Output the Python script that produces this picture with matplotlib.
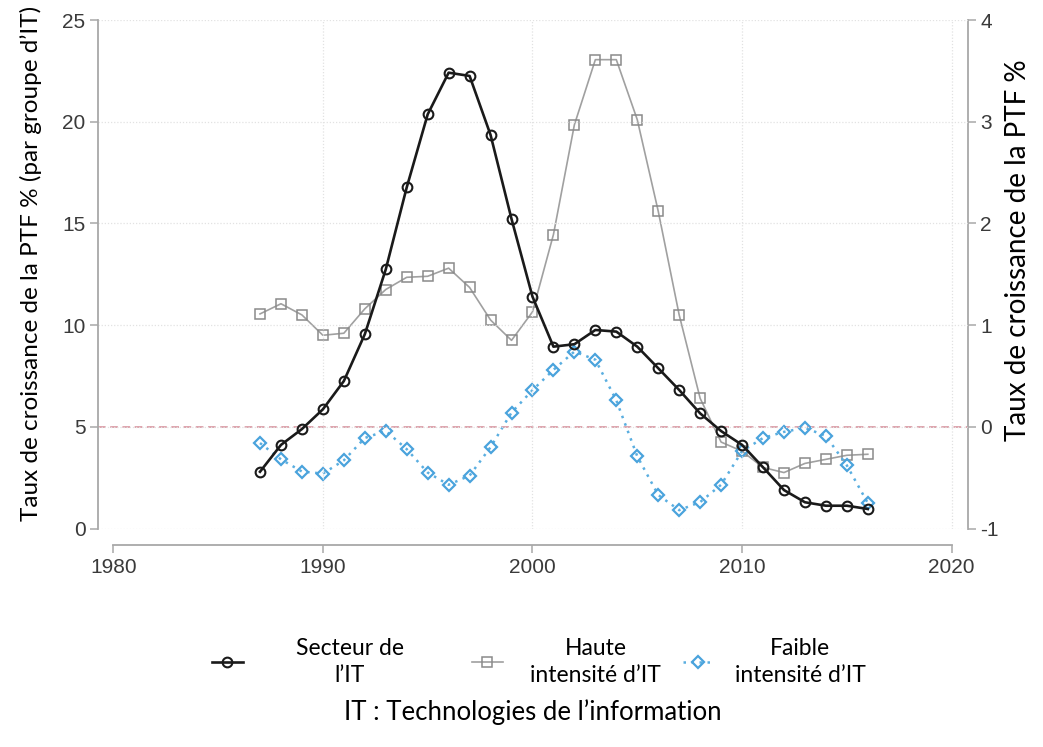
import matplotlib
matplotlib.use('Agg')
import matplotlib.pyplot as plt

# ---- data ----
years = list(range(1987, 2017))
secteur_it = [2.79, 4.11, 4.89, 5.86, 7.25, 9.55, 12.74, 16.77, 20.36, 22.41,
              22.25, 19.35, 15.22, 11.40, 8.94, 9.06, 9.76, 9.68, 8.94, 7.88,
              6.81, 5.66, 4.79, 4.11, 3.01, 1.89, 1.29, 1.12, 1.12, 0.96]
# right axis values (%)
haute_intensite = [1.11, 1.21, 1.10, 0.90, 0.92, 1.16, 1.35, 1.47, 1.48, 1.56,
                   1.37, 1.05, 0.85, 1.13, 1.89, 2.97, 3.61, 3.61, 3.02, 2.12,
                   1.10, 0.28, -0.15, -0.24, -0.40, -0.45, -0.36, -0.32, -0.28, -0.27]
faible_intensite = [-0.16, -0.32, -0.44, -0.46, -0.33, -0.11, -0.04, -0.22, -0.45, -0.57,
                    -0.48, -0.20, 0.14, 0.36, 0.56, 0.74, 0.66, 0.26, -0.29, -0.67,
                    -0.82, -0.74, -0.57, -0.24, -0.11, -0.05, -0.01, -0.09, -0.38, -0.75]
x_ticks = [1980, 1990, 2000, 2010, 2020]
left_ticks = [0, 5, 10, 15, 20, 25]
right_ticks = [-1, 0, 1, 2, 3, 4]
labels = ['Secteur de\nl\u2019IT', 'Haute\nintensit\u00e9 d\u2019IT', 'Faible\nintensit\u00e9 d\u2019IT']

W, H = 1043, 747
fig = plt.figure(figsize=(W / 100, H / 100), dpi=100)
fig.patch.set_facecolor('white')
ax = fig.add_axes([98 / W, 1 - 528.5 / H, (968 - 98) / W, (528.5 - 20) / H])
ax2 = ax.twinx()
ax.set_zorder(ax2.get_zorder() + 1)
ax.patch.set_visible(False)

ax.set_xlim(1979.27, 2020.78)
ax.set_ylim(0, 25)
ax2.set_ylim(-1, 4)

spine_c = '#a8a8a8'
tick_c = '#3a3a3a'
tfont = dict(family='Liberation Sans', size=15)

# grid
for v in left_ticks:
    ax.axhline(v, color='#e2e2e2', lw=0.9, ls=(0, (1, 1.5)), zorder=0)
for v in x_ticks[1:]:
    ax.axvline(v, color='#e2e2e2', lw=0.9, ls=(0, (1, 1.5)), zorder=0)

# zero line of right axis
ax2.axhline(0, color='#d48a96', lw=1.1, ls=(0, (5, 3)), zorder=1)

ax2.plot(years, haute_intensite, color='#a0a0a0', lw=1.2, marker='s', ms=7,
         mfc='none', mec='#8a8a8a', mew=1.1, label=labels[1], zorder=3)
ax2.plot(years, faible_intensite, color='#5aaee0', lw=1.8, ls=(0, (1, 2.2)), marker='D', ms=6,
         mfc='none', mec='#4aa3dc', mew=1.6, label=labels[2], zorder=4)
ax.plot(years, secteur_it, color='#1a1a1a', lw=1.9, marker='o', ms=7,
        mfc='none', mec='#1a1a1a', mew=1.5, label=labels[0], zorder=5)

# spines
for s in ['top', 'right']:
    ax.spines[s].set_visible(False)
for s in ['top', 'left', 'bottom']:
    ax2.spines[s].set_visible(False)
ax.spines['left'].set_bounds(0, 25)
ax.spines['bottom'].set_bounds(1980, 2020)
ax.spines['bottom'].set_position(('outward', 12))
ax2.spines['right'].set_bounds(-1, 4)
for sp in [ax.spines['left'], ax.spines['bottom'], ax2.spines['right']]:
    sp.set_color(spine_c)
    sp.set_linewidth(1.3)

ax.set_xticks(x_ticks)
ax.set_xticklabels([str(v) for v in x_ticks], **tfont, color=tick_c)
ax.set_yticks(left_ticks)
ax.set_yticklabels([str(v) for v in left_ticks], **tfont, color=tick_c)
ax2.set_yticks(right_ticks)
ax2.set_yticklabels([str(v) for v in right_ticks], **tfont, color=tick_c)
ax.tick_params(axis='both', length=6, width=1.1, color=spine_c, pad=3)
ax2.tick_params(axis='y', length=6, width=1.1, color=spine_c, pad=3)

fig.text(31 / W, 1 - 263 / H, 'Taux de croissance de la PTF % (par groupe d\u2019IT)',
         rotation=90, ha='center', va='center', family='Lato', weight='normal',
         size=17.5, color='black')
fig.text(1018 / W, 1 - 250 / H, 'Taux de croissance de la PTF %',
         rotation=90, ha='center', va='center', family='Lato', weight='normal',
         size=20, color='black')

# legend: one entry per box, placed like the reference
h1, = [l for l in ax.get_lines() if l.get_label() == labels[0]]
hl = [l for l in ax2.get_lines() if l.get_label() in labels[1:]]
handles = [h1] + hl
starts = [212, 472, 683]
pads = [2.3, 1.2, 0.9]
for h, lab, x0, pad in zip(handles, labels, starts, pads):
    leg = fig.legend([h], [lab], loc='center left', bbox_to_anchor=(x0 / W, 1 - 662 / H),
                     frameon=False, handlelength=1.35, handletextpad=pad, borderpad=0,
                     borderaxespad=0, labelspacing=0.3,
                     prop=dict(family='Lato', weight='normal', size=16.5))
    for t in leg.get_texts():
        t.set_multialignment('center')
        t.set_linespacing(1.35)

fig.text(533 / W, 1 - 712 / H, 'IT : Technologies de l\u2019information',
         ha='center', va='center', family='Lato', weight='normal', size=18.5, color='black')

fig.savefig('out.png', dpi=100, facecolor='white')
